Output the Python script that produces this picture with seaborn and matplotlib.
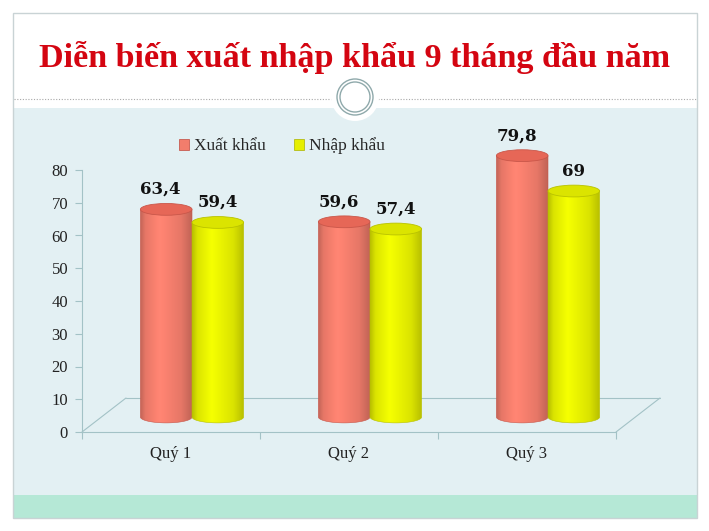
import numpy as np
import pandas as pd
import matplotlib
matplotlib.use('Agg')
import matplotlib.pyplot as plt
import matplotlib.patches as mpatches
import matplotlib.colors as mcolors
import seaborn as sns

# ---- data ----
quarters = ['Quý 1', 'Quý 2', 'Quý 3']
xuat_khau = [63.4, 59.6, 79.8]
nhap_khau = [59.4, 57.4, 69.0]
series_names = ['Xuất khẩu', 'Nhập khẩu']
y_ticks = [0, 10, 20, 30, 40, 50, 60, 70, 80]
title = 'Diễn biến xuất nhập khẩu 9 tháng đầu năm'

RED = '#f27d6c'
YELLOW = '#e6ef00'
GRID = '#a3c2c6'
PANEL = '#e3f0f3'
BAND = '#b5e8d6'
TITLE_RED = '#d40511'

df = pd.DataFrame({
    'quy': quarters * 2,
    'loai': [series_names[0]] * len(quarters) + [series_names[1]] * len(quarters),
    'value': xuat_khau + nhap_khau,
})

sns.set_theme(style='white')
plt.rcParams['font.family'] = ['Liberation Serif', 'DejaVu Serif']

W, H = 709, 531
fig = plt.figure(figsize=(W / 100, H / 100), dpi=100)
fig.patch.set_facecolor('white')

# slide background, in pixel units (y down)
bg = fig.add_axes([0, 0, 1, 1], zorder=0)
bg.set_xlim(0, W)
bg.set_ylim(H, 0)
bg.axis('off')
bg.add_patch(mpatches.Rectangle((13, 108), 684, 387, fc=PANEL, ec='none'))
bg.add_patch(mpatches.Rectangle((13, 495), 684, 23, fc=BAND, ec='none'))
bg.add_patch(mpatches.Rectangle((13, 13), 684, 505, fc='none', ec='#c9d3d5', lw=1))
bg.plot([14, 696], [99, 99], ls=(0, (1, 1.5)), color='#a8a8a8', lw=0.8)
bg.add_patch(mpatches.Circle((355, 97), 24, fc='white', ec='none', zorder=3))
bg.add_patch(mpatches.Circle((355, 97), 18, fc='none', ec='#8fa9ab', lw=1, zorder=4))
bg.add_patch(mpatches.Circle((355, 97), 15, fc='none', ec='#8fa9ab', lw=1, zorder=4))
bg.text(355, 58, title, ha='center', va='center', fontsize=24.6,
        fontweight='bold', color=TITLE_RED)

# front plane: value axis + category axis
ax = fig.add_axes([82 / W, 1 - 432 / H, 534 / W, 262 / H], zorder=1)
ax.set_facecolor('none')
ax.set_xlim(-0.5, len(quarters) - 0.5)
ax.set_ylim(0, 80)
ax.set_yticks(y_ticks)
ax.set_xticks(range(len(quarters)))
ax.set_xticklabels(quarters)
ax.set_xticks(np.arange(len(quarters) + 1) - 0.5, minor=True)
for s in ['top', 'right']:
    ax.spines[s].set_visible(False)
for s in ['left', 'bottom']:
    ax.spines[s].set_color(GRID)
    ax.spines[s].set_linewidth(0.8)
ax.tick_params(axis='y', left=True, length=5, width=0.8, color=GRID,
               labelsize=12, pad=5, labelcolor='#222222')
ax.tick_params(axis='x', which='major', bottom=True, length=0, pad=10,
               labelsize=12, labelcolor='#222222')
ax.tick_params(axis='x', which='minor', bottom=True, length=5, width=0.8, color=GRID)

# 3D floor
pos = ax.get_position()
dx = 44 / (pos.width * W)
dy = 34 / (pos.height * H)
floor = dict(transform=ax.transAxes, color=GRID, lw=0.8, clip_on=False)
ax.plot([dx, 1 + dx], [dy, dy], **floor)
ax.plot([0, dx], [0, dy], **floor)
ax.plot([1, 1 + dx], [0, dy], **floor)

# bars sit halfway back on the floor
bax = fig.add_axes([(82 + 21) / W, 1 - (432 - 15) / H, 534 / W, 262 / H], zorder=2)
sns.barplot(data=df, x='quy', y='value', hue='loai', palette=[RED, YELLOW],
            width=0.58, saturation=1, legend=False, ax=bax)


def shade(color, n=80):
    rgb = np.array(mcolors.to_rgb(color))
    t = np.linspace(0, 1, n)
    f = np.interp(t, [0, 0.1, 0.38, 0.8, 1], [0.8, 0.95, 1.07, 0.95, 0.8])
    row = np.clip(rgb[None, :] * f[:, None], 0, 1)
    return row[None, :, :]


eh = 3.6  # ellipse height in value units
tops = {RED: ('#e66757', '#c9574a'), YELLOW: ('#dbe400', '#b9c200')}
for k, (container, color) in enumerate(zip(bax.containers, [RED, YELLOW])):
    z = 3 + k
    top_fc, edge = tops[color]
    for bar, v in zip(container, df[df['loai'] == series_names[k]]['value']):
        x0, w, h = bar.get_x(), bar.get_width(), bar.get_height()
        bar.set_visible(False)
        cx = x0 + w / 2
        th = np.linspace(np.pi, 2 * np.pi, 50)
        lower = np.column_stack([cx + w / 2 * np.cos(th), eh / 2 * np.sin(th)])
        verts = np.vstack([[[x0, h]], lower, [[x0 + w, h]]])
        body = mpatches.Polygon(verts, closed=True, fc='none', ec=edge, lw=0.4,
                                zorder=z + 0.2, clip_on=False)
        bax.add_patch(body)
        im = bax.imshow(shade(color), extent=[x0, x0 + w, -eh / 2, h],
                        aspect='auto', zorder=z, interpolation='bilinear')
        im.set_clip_path(body)
        im.set_clip_box(fig.bbox)
        bax.add_patch(mpatches.Ellipse((cx, h), w, eh, fc=top_fc, ec=edge,
                                       lw=0.6, zorder=z + 0.5, clip_on=False))
        label = f'{v:g}'.replace('.', ',')
        bax.annotate(label, (cx, h + eh / 2), xytext=(-4 if k == 0 else 0, 4),
                     textcoords='offset points', ha='center', va='bottom',
                     fontsize=12, fontweight='bold', color='#111111',
                     family=['DejaVu Serif'],
                     annotation_clip=False, zorder=10)

bax.set_xlim(-0.5, len(quarters) - 0.5)
bax.set_ylim(0, 80)
bax.axis('off')

handles = [mpatches.Patch(fc=RED, ec='#c04a3e', lw=0.5),
           mpatches.Patch(fc=YELLOW, ec='#aab200', lw=0.5)]
fig.legend(handles, series_names, loc='center', bbox_to_anchor=(282 / W, 1 - 146 / H),
           ncol=2, frameon=False, fontsize=12.5, handlelength=0.6, handleheight=0.6,
           handletextpad=0.3, columnspacing=1.6)

fig.savefig('out.png', dpi=100)
